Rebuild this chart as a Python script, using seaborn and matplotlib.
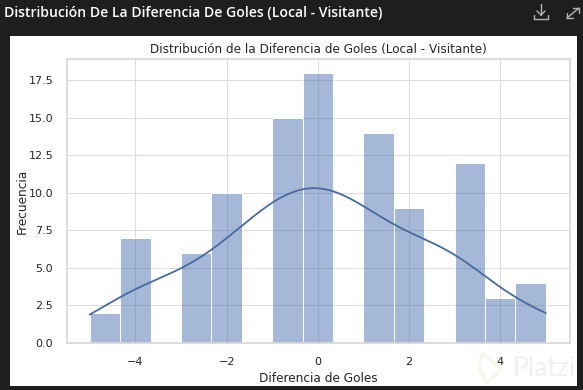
import numpy as np
import pandas as pd
import seaborn as sns
from matplotlib import pyplot as plt
from matplotlib.patches import Rectangle, Polygon
from matplotlib.lines import Line2D

goal_diff = [-5, -4, -3, -2, -1, 0, 1, 2, 3, 4, 5]
frequency = [2, 7, 6, 10, 15, 18, 14, 9, 12, 3, 4]
y_ticks = [0.0, 2.5, 5.0, 7.5, 10.0, 12.5, 15.0, 17.5]

W, H = 583, 390
DARK = "#1e1e1e"

sns.set_theme(style="whitegrid")
df = pd.DataFrame({"diff": np.repeat(goal_diff, frequency)})

fig = plt.figure(figsize=(W / 100, H / 100), dpi=100, facecolor=DARK)
# white card the chart sits on
fig.patches.append(Rectangle((10 / W, 1 - 386 / H), 567 / W, 350 / H, transform=fig.transFigure,
                             facecolor="white", edgecolor="none", zorder=-1))

ax = fig.add_axes([67 / W, 1 - 343 / H, 503 / W, 284 / H])
sns.histplot(data=df, x="diff", bins=15, kde=True, alpha=0.5, ax=ax, edgecolor="white", linewidth=0.7)
ax.lines[0].set_color("#476a9f")
ax.lines[0].set_linewidth(1.3)
ax.set_xlim(-5.5, 5.53)
ax.set_ylim(0, 18.9)
ax.set_yticks(y_ticks)
ax.set_xticks([-4, -2, 0, 2, 4])
ax.tick_params(labelsize=8, colors="#262626", pad=4)
ax.set_title("Distribución de la Diferencia de Goles (Local - Visitante)", fontsize=8.65, color="#262626", pad=4)
ax.set_xlabel("Diferencia de Goles", fontsize=8.75, color="#262626")
ax.set_ylabel("Frecuencia", fontsize=8.75, color="#262626")
ax.xaxis.set_label_coords(0.5, -29 / 284)
ax.yaxis.set_label_coords(-38 / 503, 0.5)
ax.grid(color="#dcdcdc", linewidth=0.8)
for s in ax.spines.values():
    s.set_color("#d8d8d8")

# page header
fig.text(4 / W, 1 - 13 / H, "Distribución De La Diferencia De Goles (Local - Visitante)", color="white",
         family="Open Sans", weight="semibold", fontsize=10.1, va="center")

# watermark
fig.text(513 / W, 1 - 369 / H, "Platzi", color="#f0f0f0", family="Lato", fontsize=19, va="center", ha="left")
fig.patches.append(Polygon([(482 / W, 1 - 354 / H), (502 / W, 1 - 369 / H), (487 / W, 1 - 383 / H), (479 / W, 1 - 369 / H)],
                           closed=True, transform=fig.transFigure, facecolor="none", edgecolor="#f4f8ec", linewidth=2.5))

# download and expand icons
icon_lines = [
    ([541, 541], [4, 15]), ([537, 541], [11, 15]), ([545, 541], [11, 15]),
    ([534, 534], [15, 19]), ([534, 548], [19, 19]), ([548, 548], [15, 19]),
    ([567, 579], [18, 8]), ([573, 579], [8, 8]), ([579, 579], [8, 13]),
    ([567, 567], [13, 18]), ([567, 573], [18, 18]),
]
for xs, ys in icon_lines:
    fig.add_artist(Line2D([x / W for x in xs], [1 - y / H for y in ys], color="#b4b4b4", linewidth=1.0))

fig.savefig("out.png", dpi=100, facecolor=DARK)
